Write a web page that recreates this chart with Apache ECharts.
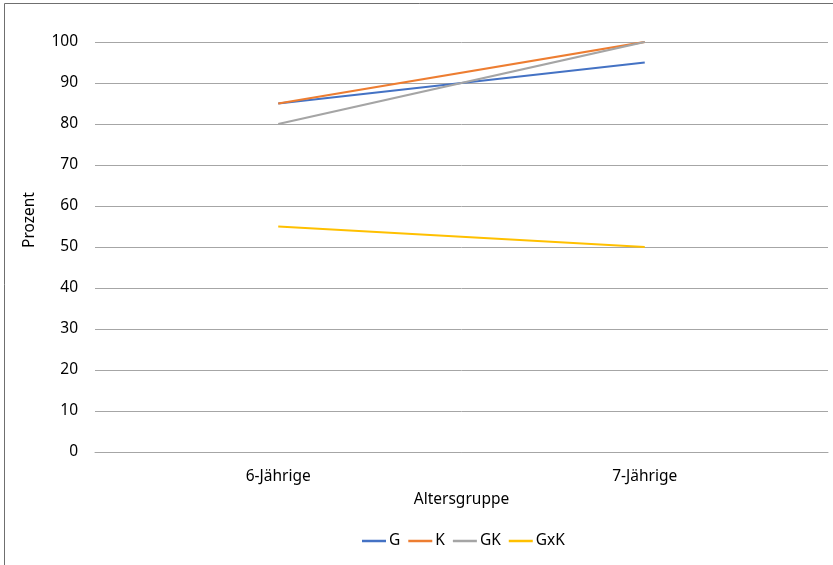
<!DOCTYPE html>
<html><head><meta charset="utf-8">
<script src="https://cdn.jsdelivr.net/npm/echarts@6/dist/echarts.min.js"></script>
<style>html,body{margin:0;padding:0;background:#fff}#c{width:833px;height:565px}</style>
</head><body><div id="c"></div>
<script>
const categories = ['6-Jährige', '7-Jährige'];
const seriesNames = ['G', 'K', 'GK', 'GxK'];
const valuesG = [85, 95];
const valuesK = [85, 100];
const valuesGK = [80, 100];
const valuesGxK = [55, 50];
const colors = ['#4472C4', '#ED7D31', '#A5A5A5', '#FFC000'];
const FONT = 'Noto Sans';
const FS = 15.5;
const chart = echarts.init(document.getElementById('c'));
const data = [valuesG, valuesK, valuesGK, valuesGxK];
chart.setOption({
  animation: false,
  textStyle: {fontFamily: FONT},
  grid: {left: 95, right: 5, top: 42, bottom: 113, containLabel: false},
  graphic: [
    {type: 'rect', shape: {x: 4.5, y: 3.5, width: 900, height: 700}, style: {fill: null, stroke: '#6f6f6f', lineWidth: 1}},
    {type: 'text', x: 30, y: 220, rotation: Math.PI / 2, style: {text: 'Prozent', font: FS + 'px "Noto Sans"', fill: '#000', align: 'center', verticalAlign: 'middle'}}
  ],
  legend: {
    top: 533, padding: 0, left: 362, itemGap: 8, itemWidth: 24, itemHeight: 2.5, icon: 'rect',
    textStyle: {fontFamily: FONT, fontSize: FS, color: '#000', padding: [0, 0, 0, -2]},
    data: seriesNames
  },
  xAxis: {
    type: 'category', data: categories, boundaryGap: true,
    name: 'Altersgruppe', nameLocation: 'middle', nameGap: 40,
    nameTextStyle: {fontFamily: FONT, fontSize: FS, color: '#000'},
    axisLine: {lineStyle: {color: '#a6a6a6', width: 1}}, axisTick: {show: false},
    axisLabel: {fontFamily: FONT, fontSize: FS, color: '#000', margin: 17}
  },
  yAxis: {
    type: 'value', min: 0, max: 100, interval: 10,
    axisLine: {show: false}, axisTick: {show: false},
    axisLabel: {fontFamily: FONT, fontSize: FS, color: '#000', margin: 17},
    splitLine: {lineStyle: {color: '#a6a6a6', width: 1}}
  },
  series: seriesNames.map((n, i) => ({
    name: n, type: 'line', data: data[i], showSymbol: false, symbol: 'none',
    lineStyle: {width: 2.25, color: colors[i]}, itemStyle: {color: colors[i]}
  }))
});
</script></body></html>
